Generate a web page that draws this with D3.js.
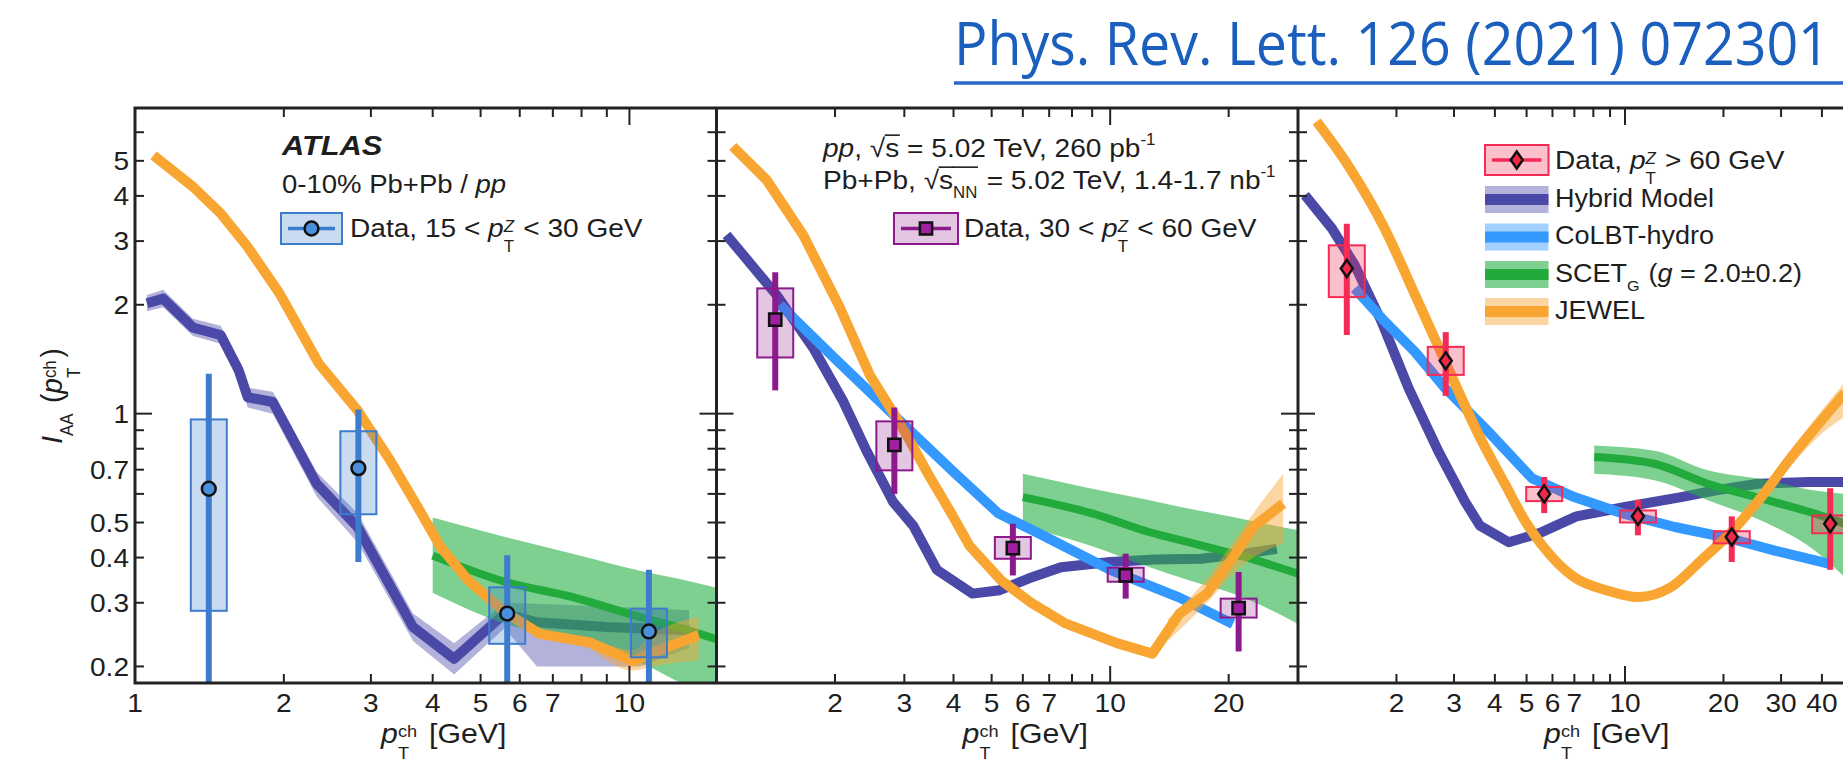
<!DOCTYPE html>
<html>
<head>
<meta charset="utf-8">
<script src="https://cdn.jsdelivr.net/npm/d3@7/dist/d3.min.js"></script>
<style>
  html, body { margin: 0; padding: 0; background: #fff; overflow: hidden; }
  svg { display: block; }
  text { font-family: "Liberation Sans", Arial, Helvetica, sans-serif; fill: #1e1e1e; white-space: pre; }
</style>
</head>
<body>
<svg id="chart" width="1843" height="763"></svg>
<script>
// ---------------- data ----------------
const citation = "Phys. Rev. Lett. 126 (2021) 072301";

// axis ranges (pT^ch in GeV, I_AA)
const ptRange1 = [1, 15], ptRange2 = [1, 30], ptRange3 = [1, 60];
const iaaRange = [0.18, 7];
const xTickLabels1 = [1, 2, 3, 4, 5, 6, 7, 10];
const xTickLabels2 = [2, 3, 4, 5, 6, 7, 10, 20];
const xTickLabels3 = [2, 3, 4, 5, 6, 7, 10, 20, 30, 40];
const yTickLabels = [0.2, 0.3, 0.4, 0.5, 0.7, 1, 2, 3, 4, 5];

// ATLAS data, 15 < pT^Z < 30 GeV
const pt15 = [1.41, 2.83, 5.66, 10.95];
const iaa15 = [0.62, 0.707, 0.28, 0.25];
const stat15Lo = [0.1, 0.389, 0.1, 0.1];
const stat15Hi = [1.29, 1.026, 0.406, 0.37];
const sys15Lo = [0.285, 0.527, 0.231, 0.212];
const sys15Hi = [0.964, 0.894, 0.331, 0.289];

// ATLAS data, 30 < pT^Z < 60 GeV
const pt30 = [1.41, 2.83, 5.66, 10.95, 21.2];
const iaa30 = [1.82, 0.82, 0.425, 0.357, 0.29];
const stat30Lo = [1.16, 0.60, 0.357, 0.308, 0.22];
const stat30Hi = [2.46, 1.04, 0.496, 0.41, 0.365];
const sys30Lo = [1.43, 0.697, 0.397, 0.343, 0.273];
const sys30Hi = [2.22, 0.952, 0.456, 0.375, 0.308];

// ATLAS data, pT^Z > 60 GeV
const pt60 = [1.41, 2.83, 5.66, 10.95, 21.2, 42.4];
const iaa60 = [2.52, 1.40, 0.60, 0.52, 0.456, 0.496];
const stat60Lo = [1.65, 1.12, 0.531, 0.461, 0.389, 0.37];
const stat60Hi = [3.35, 1.68, 0.668, 0.578, 0.52, 0.622];
const sys60Lo = [2.10, 1.28, 0.573, 0.50, 0.438, 0.467];
const sys60Hi = [2.92, 1.53, 0.627, 0.54, 0.473, 0.523];

// Hybrid Model
const hybridPt1 = [1.057, 1.14, 1.31, 1.49, 1.62, 1.69, 1.90, 2.33, 2.82, 3.65, 4.42, 5.59, 6.5, 9.0, 10.5, 13.2];
const hybrid1   = [2.02, 2.08, 1.73, 1.65, 1.32, 1.11, 1.077, 0.64, 0.486, 0.257, 0.21, 0.28, 0.265, 0.257, 0.255, 0.252];
const hybrid1Lo = [1.92, 1.97, 1.64, 1.56, 1.24, 1.04, 1.0, 0.59, 0.44, 0.235, 0.19, 0.255, 0.2, 0.2, 0.2, 0.225];
const hybrid1Hi = [2.13, 2.2, 1.83, 1.75, 1.4, 1.18, 1.15, 0.69, 0.53, 0.28, 0.232, 0.30, 0.298, 0.293, 0.29, 0.286];
const hybridPt2 = [1.06, 1.42, 1.76, 2.1, 2.41, 2.81, 3.16, 3.63, 4.47, 5.24, 6.2, 7.5, 10, 13, 17, 22, 26.5];
const hybrid2   = [3.12, 2.13, 1.52, 1.08, 0.785, 0.57, 0.49, 0.37, 0.318, 0.325, 0.35, 0.376, 0.389, 0.395, 0.397, 0.41, 0.423];
const hybridPt3 = [1.05, 1.27, 1.49, 1.80, 2.18, 2.69, 3.24, 3.6, 4.41, 5.5, 7.1, 10, 14.85, 18.8, 25.5, 36.3, 47];
const hybrid3   = [4.02, 3.25, 2.58, 1.80, 1.175, 0.785, 0.571, 0.49, 0.441, 0.468, 0.52, 0.552, 0.588, 0.613, 0.64, 0.647, 0.647];

// CoLBT-hydro
const colbtPt2 = [1.45, 2.0, 3.0, 4.0, 5.2, 6.5, 10, 15, 20.5];
const colbt2   = [2.0, 1.42, 0.93, 0.69, 0.53, 0.47, 0.37, 0.31, 0.262];
const colbtPt3 = [1.49, 1.84, 2.28, 2.82, 3.74, 5.2, 6.99, 9.9, 14.2, 21.1, 28.7, 41.9];
const colbt3   = [2.22, 1.80, 1.48, 1.175, 0.91, 0.662, 0.588, 0.529, 0.486, 0.451, 0.418, 0.385];

// SCET_G (g = 2.0 +- 0.2)
const scetPt1 = [4, 5.63, 7.68, 10.5, 12.5, 15];
const scet1   = [0.405, 0.342, 0.311, 0.274, 0.257, 0.238];
const scet1Lo = [0.32, 0.262, 0.238, 0.205, 0.182, 0.16];
const scet1Hi = [0.516, 0.455, 0.41, 0.368, 0.35, 0.33];
const scetPt2 = [6, 9, 12.6, 16, 20.5, 25, 30];
const scet2   = [0.588, 0.53, 0.47, 0.44, 0.41, 0.385, 0.361];
const scet2Lo = [0.491, 0.43, 0.376, 0.345, 0.318, 0.29, 0.262];
const scet2Hi = [0.682, 0.62, 0.576, 0.545, 0.518, 0.495, 0.476];
const scetPt3 = [8.05, 12.3, 17.9, 27.4, 38.1, 47];
const scet3   = [0.759, 0.727, 0.64, 0.576, 0.529, 0.496];
const scet3Lo = [0.682, 0.654, 0.576, 0.496, 0.418, 0.353];
const scet3Hi = [0.817, 0.79, 0.697, 0.654, 0.613, 0.60];

// JEWEL
const jewelPt1 = [1.09, 1.31, 1.49, 1.69, 1.96, 2.35, 2.82, 3.28, 3.73, 4.15, 4.72, 5.59, 6.6, 8.3, 10.16, 11.1, 13.8];
const jewel1   = [5.18, 4.24, 3.58, 2.89, 2.15, 1.38, 1.02, 0.743, 0.552, 0.428, 0.346, 0.283, 0.246, 0.233, 0.207, 0.218, 0.244];
const jewelBandPt1 = [8.3, 10.16, 11.1, 13.8];
const jewelBand1Lo = [0.225, 0.195, 0.2, 0.208];
const jewelBand1Hi = [0.242, 0.222, 0.245, 0.274];
const jewelPt2 = [1.1, 1.34, 1.66, 2.06, 2.45, 2.87, 3.1, 3.45, 3.95, 4.4, 5.3, 6.3, 7.7, 10.4, 12.8, 15, 17.6, 20.5, 23.1, 27.5];
const jewel2   = [5.48, 4.43, 3.12, 1.96, 1.28, 0.97, 0.84, 0.68, 0.53, 0.43, 0.345, 0.30, 0.263, 0.232, 0.217, 0.28, 0.318, 0.40, 0.486, 0.564];
const jewelBandPt2 = [14, 17.6, 20.5, 23.1, 27.5];
const jewelBand2Lo = [0.235, 0.30, 0.36, 0.40, 0.437];
const jewelBand2Hi = [0.27, 0.35, 0.44, 0.53, 0.682];
const jewelPt3 = [1.14, 1.42, 1.84, 2.28, 2.82, 3.57, 4.31, 4.96, 5.53, 6.99, 8.85, 10.94, 13.8, 17.1, 21.1, 26.1, 32.3, 39.9, 47];
const jewel3   = [6.42, 4.87, 3.25, 2.13, 1.39, 0.873, 0.635, 0.503, 0.437, 0.353, 0.324, 0.311, 0.331, 0.393, 0.47, 0.588, 0.759, 0.958, 1.14];
const jewelBandPt3 = [32.3, 39.9, 47];
const jewelBand3Lo = [0.72, 0.88, 0.98];
const jewelBand3Hi = [0.80, 1.02, 1.22];

// ---------------- layout & style ----------------
const X0 = 135, TOP = 108, BOT = 683, PW = 581.5;
const SX = 1.08;               // horizontal text stretch
const BOXHW = 18;              // half width of systematic boxes (px)
const C = {
  hybrid: "#4b49a8", hybridBand: "rgba(74,72,168,0.42)",
  colbt: "#3399ff", colbtBand: "rgba(51,153,255,0.45)",
  scet: "#22aa3c", scetBand: "rgba(40,176,70,0.6)",
  jewel: "#f9a531", jewelBand: "rgba(249,165,49,0.45)",
  axis: "#222"
};
const series = [
  { color: "#3d7ccc", fill: "rgba(61,124,204,0.28)", marker: "#4a8fdc", shape: "circle" },
  { color: "#8c1a8c", fill: "rgba(140,26,140,0.25)", marker: "#a0209f", shape: "square" },
  { color: "#f52a55", fill: "rgba(245,42,85,0.3)",   marker: "#f0284a", shape: "diamond" }
];
const shapes = {
  circle: d3.symbol(d3.symbolCircle, 150)(),
  square: d3.symbol(d3.symbolSquare, 150)(),
  diamond: "M0,-8.5L6,0L0,8.5L-6,0Z"
};

const panels = [
  { range: ptRange1, labels: xTickLabels1, data: [pt15, iaa15, stat15Lo, stat15Hi, sys15Lo, sys15Hi],
    hybrid: [hybridPt1, hybrid1, hybrid1Lo, hybrid1Hi], colbt: null,
    scet: [scetPt1, scet1, scet1Lo, scet1Hi],
    jewel: [jewelPt1, jewel1], jewelBand: [jewelBandPt1, jewelBand1Lo, jewelBand1Hi], jewelCurve: d3.curveLinear },
  { range: ptRange2, labels: xTickLabels2, data: [pt30, iaa30, stat30Lo, stat30Hi, sys30Lo, sys30Hi],
    hybrid: [hybridPt2, hybrid2], colbt: [colbtPt2, colbt2],
    scet: [scetPt2, scet2, scet2Lo, scet2Hi],
    jewel: [jewelPt2, jewel2], jewelBand: [jewelBandPt2, jewelBand2Lo, jewelBand2Hi], jewelCurve: d3.curveLinear },
  { range: ptRange3, labels: xTickLabels3, data: [pt60, iaa60, stat60Lo, stat60Hi, sys60Lo, sys60Hi],
    hybrid: [hybridPt3, hybrid3], colbt: [colbtPt3, colbt3],
    scet: [scetPt3, scet3, scet3Lo, scet3Hi],
    jewel: [jewelPt3, jewel3], jewelBand: [jewelBandPt3, jewelBand3Lo, jewelBand3Hi], jewelCurve: d3.curveMonotoneX }
];

// ---------------- helpers ----------------
const svg = d3.select("#chart");
const defs = svg.append("defs");
const y = d3.scaleLog().domain(iaaRange).range([BOT, TOP]);

// Lays out text pieces left to right, with italic parts, overlines and
// sub/superscripts (stacked when both are present).
function rich(parent, x, yy, parts, size, opt = {}) {
  const outer = parent.append("g")
    .attr("transform", opt.transform || `translate(${x},${yy}) scale(${SX},1)`);
  const g = outer.append("g");
  let cx = 0;
  const overs = [];
  parts.forEach(p => {
    if (typeof p === "string") p = { t: p };
    if (p.t !== undefined) {
      const el = g.append("text").attr("x", cx).attr("y", 0).style("font-size", size + "px").text(p.t);
      if (p.it) el.style("font-style", "italic");
      if (p.b) el.style("font-weight", "bold");
      const w = el.node().getComputedTextLength();
      if (p.over) overs.push([cx, cx + w]);
      cx += w;
    } else {
      const s = size * 0.6;
      const both = p.sub !== undefined && p.sup !== undefined;
      let w = 0;
      if (p.sub !== undefined) {
        const el = g.append("text").attr("x", cx)
          .attr("y", size * (both ? 0.58 : 0.36)).style("font-size", s + "px").text(p.sub);
        w = Math.max(w, el.node().getComputedTextLength());
      }
      if (p.sup !== undefined) {
        const el = g.append("text").attr("x", cx)
          .attr("y", -size * (both ? 0.2 : 0.45)).style("font-size", s + "px").text(p.sup);
        if (p.supIt) el.style("font-style", "italic");
        w = Math.max(w, el.node().getComputedTextLength());
      }
      if (p.over) overs.push([cx, cx + w]);
      cx += w + size * (p.gap !== undefined ? p.gap : 0.05);
    }
  });
  overs.forEach(([a, b]) => g.append("line")
    .attr("x1", a - 0.5).attr("x2", b + 0.5)
    .attr("y1", -size * 0.84).attr("y2", -size * 0.84)
    .attr("stroke", "#1e1e1e").attr("stroke-width", 1.6));
  if (opt.anchor === "middle") g.attr("transform", `translate(${-cx / 2},0)`);
  if (opt.anchor === "end") g.attr("transform", `translate(${-cx},0)`);
  return outer;
}

const isDecade = v => Math.abs(Math.log10(v) - Math.round(Math.log10(v))) < 1e-9;

// ---------------- citation ----------------
const cite = svg.append("text")
  .style("font-family", '"Open Sans", "Noto Sans", sans-serif')
  .style("font-size", "60px").style("fill", "#1b5fbe")
  .text(citation);
const citeW = cite.node().getComputedTextLength();
cite.attr("transform", `translate(954,65) scale(${876 / citeW},1)`);
svg.append("line").attr("x1", 954).attr("x2", 1843).attr("y1", 83).attr("y2", 83)
  .attr("stroke", "#2a68c8").attr("stroke-width", 3.5);

// ---------------- panels ----------------
panels.forEach((p, i) => {
  const x0 = X0 + i * PW, x1 = x0 + PW;
  const x = d3.scaleLog().domain(p.range).range([x0, x1]);
  const clipId = "plot-clip-" + i;
  defs.append("clipPath").attr("id", clipId)
    .append("rect").attr("x", x0).attr("y", TOP).attr("width", PW).attr("height", BOT - TOP);
  const g = svg.append("g").attr("clip-path", `url(#${clipId})`);

  const line = curve => d3.line().x(d => x(d[0])).y(d => y(d[1])).curve(curve);
  const area = curve => d3.area().x(d => x(d[0])).y0(d => y(d[1])).y1(d => y(d[2])).curve(curve);
  const drawLine = (pts, vals, color, width, curve) => g.append("path")
    .attr("d", line(curve)(d3.zip(pts, vals)))
    .attr("fill", "none").attr("stroke", color).attr("stroke-width", width)
    .attr("stroke-linejoin", "round").attr("stroke-linecap", "butt");
  const drawBand = (pts, lo, hi, color, curve) => g.append("path")
    .attr("d", area(curve)(d3.zip(pts, lo, hi))).attr("fill", color);

  // Hybrid Model
  if (p.hybrid[2]) drawBand(p.hybrid[0], p.hybrid[2], p.hybrid[3], C.hybridBand, d3.curveLinear);
  drawLine(p.hybrid[0], p.hybrid[1], C.hybrid, 10, d3.curveLinear);
  // SCET_G
  drawBand(p.scet[0], p.scet[2], p.scet[3], C.scetBand, d3.curveMonotoneX);
  drawLine(p.scet[0], p.scet[1], C.scet, 8, d3.curveMonotoneX);
  // CoLBT-hydro
  if (p.colbt) drawLine(p.colbt[0], p.colbt[1], C.colbt, 10, d3.curveLinear);
  // JEWEL
  drawBand(p.jewelBand[0], p.jewelBand[1], p.jewelBand[2], C.jewelBand, d3.curveMonotoneX);
  drawLine(p.jewel[0], p.jewel[1], C.jewel, 10, p.jewelCurve);

  // data: systematic boxes, statistical bars, markers
  const [pts, vals, sLo, sHi, yLo, yHi] = p.data;
  const st = series[i];
  const dg = g.append("g");
  pts.forEach((pt, k) => {
    const cx = x(pt);
    dg.append("rect").attr("x", cx - BOXHW).attr("width", 2 * BOXHW)
      .attr("y", y(yHi[k])).attr("height", y(yLo[k]) - y(yHi[k]))
      .attr("fill", st.fill).attr("stroke", st.color).attr("stroke-width", 2);
  });
  pts.forEach((pt, k) => {
    const cx = x(pt);
    dg.append("line").attr("x1", cx).attr("x2", cx)
      .attr("y1", y(sHi[k])).attr("y2", y(sLo[k]))
      .attr("stroke", st.color).attr("stroke-width", 6);
  });
  pts.forEach((pt, k) => {
    dg.append("path").attr("d", shapes[st.shape])
      .attr("transform", `translate(${x(pt)},${y(vals[k])})`)
      .attr("fill", st.marker).attr("stroke", "#111").attr("stroke-width", 2.5);
  });

  // ticks
  const ax = svg.append("g").attr("stroke", C.axis).attr("stroke-width", 2);
  x.ticks().filter(v => v > p.range[0] && v < p.range[1]).forEach(v => {
    const len = isDecade(v) ? 17 : 9;
    ax.append("line").attr("x1", x(v)).attr("x2", x(v)).attr("y1", BOT).attr("y2", BOT - len);
    ax.append("line").attr("x1", x(v)).attr("x2", x(v)).attr("y1", TOP).attr("y2", TOP + len);
  });
  y.ticks().filter(v => v > iaaRange[0] * 1.001 && v < iaaRange[1] * 0.999).forEach(v => {
    const len = isDecade(v) ? 17 : 9;
    ax.append("line").attr("x1", x0).attr("x2", x0 + len).attr("y1", y(v)).attr("y2", y(v));
    ax.append("line").attr("x1", x1).attr("x2", x1 - len).attr("y1", y(v)).attr("y2", y(v));
  });

  // x tick labels
  p.labels.forEach(v => {
    svg.append("text").attr("transform", `translate(${x(v)},712) scale(${SX},1)`)
      .attr("text-anchor", "middle").style("font-size", "26px").text(v);
  });

  // x axis title
  rich(svg, (x0 + x1) / 2 + 18, 743,
    [{ t: "p", it: true }, { sub: "T", sup: "ch", gap: 0.12 }, " [GeV]"], 28, { anchor: "middle" });
});

// y tick labels
yTickLabels.forEach(v => {
  svg.append("text").attr("transform", `translate(129,${y(v)}) scale(${SX},1)`)
    .attr("text-anchor", "end").attr("dy", "0.36em").style("font-size", "26px").text(v);
});

// y axis title
rich(svg, 0, 0, [{ t: "I", it: true }, { sub: "AA", gap: 0.1 }, " (", { t: "p", it: true }, { sub: "T", sup: "ch", gap: 0.1 }, ")"], 28,
  { anchor: "middle", transform: `translate(62,396) rotate(-90) scale(1,${SX})` });

// frame
svg.append("rect").attr("x", X0).attr("y", TOP).attr("width", 3 * PW).attr("height", BOT - TOP)
  .attr("fill", "none").attr("stroke", C.axis).attr("stroke-width", 3);
[1, 2].forEach(k => svg.append("line")
  .attr("x1", X0 + k * PW).attr("x2", X0 + k * PW).attr("y1", TOP).attr("y2", BOT)
  .attr("stroke", C.axis).attr("stroke-width", 3));

// ---------------- legends & labels ----------------
function dataKey(x, yc, w, h, st) {
  const g = svg.append("g");
  g.append("rect").attr("x", x).attr("y", yc - h / 2).attr("width", w).attr("height", h)
    .attr("fill", st.fill).attr("stroke", st.color).attr("stroke-width", 2);
  g.append("line").attr("x1", x + 7).attr("x2", x + w - 7).attr("y1", yc).attr("y2", yc)
    .attr("stroke", st.color).attr("stroke-width", 3.5);
  g.append("path").attr("d", shapes[st.shape]).attr("transform", `translate(${x + w / 2},${yc})`)
    .attr("fill", st.marker).attr("stroke", "#111").attr("stroke-width", 2.5);
}
function bandKey(x, yc, w, band, color) {
  svg.append("rect").attr("x", x).attr("y", yc - 13.5).attr("width", w).attr("height", 27).attr("fill", band);
  svg.append("rect").attr("x", x).attr("y", yc - 5.5).attr("width", w).attr("height", 11).attr("fill", color);
}

// left panel
rich(svg, 282, 155, [{ t: "ATLAS", it: true, b: true }], 28.5);
rich(svg, 282, 193, ["0-10% Pb+Pb / ", { t: "pp", it: true }], 25.5);
dataKey(281, 228.5, 61, 31, series[0]);
rich(svg, 350, 237, ["Data, 15 < ", { t: "p", it: true }, { sub: "T", sup: "Z", supIt: true }, " < 30 GeV"], 26);

// middle panel
rich(svg, 823, 157, [{ t: "pp", it: true }, ", ", "\u221A", { t: "s", over: true }, " = 5.02 TeV, 260 pb", { sup: "-1" }], 26);
rich(svg, 823, 189, ["Pb+Pb, ", "\u221A", { t: "s", over: true }, { sub: "NN", over: true }, " = 5.02 TeV, 1.4-1.7 nb", { sup: "-1" }], 26);
dataKey(894, 228.5, 64, 31, series[1]);
rich(svg, 964, 237, ["Data, 30 < ", { t: "p", it: true }, { sub: "T", sup: "Z", supIt: true }, " < 60 GeV"], 26);

// right panel
const LX = 1485, LW = 63.5, TX = 1555;
dataKey(LX, 160, LW, 30, series[2]);
rich(svg, TX, 169, ["Data, ", { t: "p", it: true }, { sub: "T", sup: "Z", supIt: true }, " > 60 GeV"], 26);
bandKey(LX, 199.5, LW, C.hybridBand, C.hybrid);
rich(svg, TX, 207, ["Hybrid Model"], 25);
bandKey(LX, 237, LW, C.colbtBand, C.colbt);
rich(svg, TX, 244, ["CoLBT-hydro"], 25);
bandKey(LX, 274.5, LW, C.scetBand, C.scet);
rich(svg, TX, 281.7, ["SCET", { sub: "G" }, " (", { t: "g", it: true }, " = 2.0\u00B10.2)"], 25);
bandKey(LX, 311.5, LW, C.jewelBand, C.jewel);
rich(svg, TX, 319, ["JEWEL"], 25);
</script>
</body>
</html>
